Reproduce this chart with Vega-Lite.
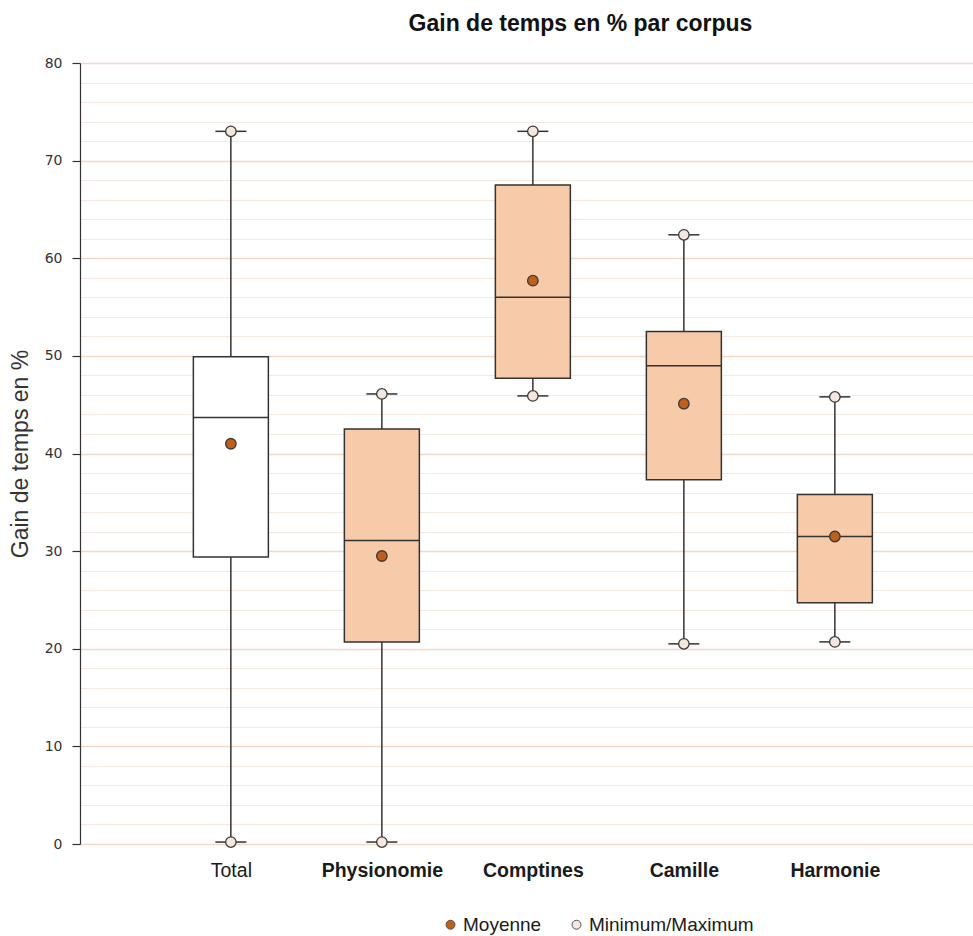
{
  "$schema": "https://vega.github.io/schema/vega-lite/v6.json",
  "autosize": {"type": "none"},
  "padding": {"left": 80, "top": 63, "right": 0, "bottom": 92},
  "width": 893,
  "height": 781,
  "background": "white",
  "title": {
    "text": "Gain de temps en % par corpus",
    "font": "Liberation Sans",
    "fontSize": 23,
    "fontWeight": "bold",
    "color": "#111111",
    "anchor": "middle",
    "dx": 54,
    "offset": 20
  },
  "config": {
    "view": {"stroke": null}
  },
  "data": {
    "values": [
      {"corpus": "Total", "min": 0.2, "q1": 29.4, "median": 43.7, "q3": 49.9, "max": 73.0, "mean": 41.0},
      {"corpus": "Physionomie", "min": 0.2, "q1": 20.7, "median": 31.1, "q3": 42.5, "max": 46.1, "mean": 29.5},
      {"corpus": "Comptines", "min": 45.9, "q1": 47.7, "median": 56.0, "q3": 67.5, "max": 73.0, "mean": 57.7},
      {"corpus": "Camille", "min": 20.5, "q1": 37.3, "median": 49.0, "q3": 52.5, "max": 62.4, "mean": 45.1},
      {"corpus": "Harmonie", "min": 20.7, "q1": 24.7, "median": 31.5, "q3": 35.8, "max": 45.8, "mean": 31.5}
    ]
  },
  "encoding": {
    "x": {
      "field": "corpus",
      "type": "nominal",
      "sort": null,
      "scale": {"type": "point", "padding": 0.957, "align": 0.522},
      "axis": {
        "title": null,
        "domain": false,
        "ticks": false,
        "grid": false,
        "labelAngle": 0,
        "labelFont": "Liberation Sans",
        "labelFontSize": 19.5,
        "labelColor": "#1a1a1a",
        "labelPadding": 17,
        "labelFontWeight": {"condition": {"test": "datum.value == 'Total'", "value": "normal"}, "value": "bold"}
      }
    }
  },
  "layer": [
    {
      "mark": {"type": "rule", "color": "#333333", "strokeWidth": 1.5},
      "encoding": {
        "y": {
          "field": "min",
          "type": "quantitative",
          "scale": {"domain": [0, 80], "nice": false, "zero": false},
          "axis": {
            "title": "Gain de temps en %",
            "titleFont": "Liberation Sans",
            "titleFontSize": 23,
            "titleFontWeight": "normal",
            "titleColor": "#333333",
            "titlePadding": 12,
            "values": [0, 2, 4, 6, 8, 10, 12, 14, 16, 18, 20, 22, 24, 26, 28, 30, 32, 34, 36, 38, 40, 42, 44, 46, 48, 50, 52, 54, 56, 58, 60, 62, 64, 66, 68, 70, 72, 74, 76, 78, 80],
            "tickCount": 100,
            "labelExpr": "datum.value % 10 == 0 ? datum.label : ''",
            "labelOverlap": false,
            "labelFlush": false,
            "labelFont": "DejaVu Sans",
            "labelFontSize": 14,
            "labelColor": "#333333",
            "labelPadding": 10,
            "domainColor": "#333333",
            "domainWidth": 1.2,
            "tickColor": "#333333",
            "tickSize": 8,
            "tickWidth": 1.2,
            "tickOpacity": {"condition": {"test": "datum.value % 10 == 0", "value": 1}, "value": 0},
            "grid": true,
            "gridColor": {"condition": {"test": "datum.value % 10 == 0", "value": "#f2d8c6"}, "value": "#f3e9e2"},
            "gridWidth": {"condition": {"test": "datum.value % 10 == 0", "value": 1.6}, "value": 1.2}
          }
        },
        "y2": {"field": "max"}
      }
    },
    {
      "mark": {"type": "bar", "size": 75, "stroke": "#333333", "strokeWidth": 1.5},
      "encoding": {
        "y": {"field": "q1", "type": "quantitative"},
        "y2": {"field": "q3"},
        "fill": {"condition": {"test": "datum.corpus == 'Total'", "value": "#ffffff"}, "value": "#f7caa9"}
      }
    },
    {
      "mark": {"type": "tick", "size": 75, "thickness": 1.5, "color": "#333333", "opacity": 1},
      "encoding": {
        "y": {"field": "median", "type": "quantitative"}
      }
    },
    {
      "mark": {"type": "tick", "size": 31, "thickness": 1.5, "color": "#333333", "opacity": 1},
      "encoding": {
        "y": {"field": "min", "type": "quantitative"}
      }
    },
    {
      "mark": {"type": "tick", "size": 31, "thickness": 1.5, "color": "#333333", "opacity": 1},
      "encoding": {
        "y": {"field": "max", "type": "quantitative"}
      }
    },
    {
      "transform": [{"fold": ["min", "max", "mean"], "as": ["stat", "value"]}],
      "mark": {"type": "point", "shape": "circle", "filled": true, "size": 110, "stroke": "#3a3a3a", "strokeWidth": 1.3, "opacity": 1},
      "encoding": {
        "y": {"field": "value", "type": "quantitative"},
        "fill": {
          "field": "stat",
          "type": "nominal",
          "scale": {"domain": ["mean", "min", "max"], "range": ["#bf5f1c", "#f3e7de", "#f3e7de"]},
          "legend": {
            "title": null,
            "values": ["mean", "min"],
            "labelExpr": "datum.value == 'mean' ? 'Moyenne' : 'Minimum/Maximum'",
            "orient": "none",
            "direction": "horizontal",
            "legendX": 361,
            "legendY": 852,
            "symbolType": "circle",
            "symbolSize": 80,
            "symbolStrokeColor": "#555555",
            "symbolStrokeWidth": 1,
            "labelFont": "Liberation Sans",
            "labelFontSize": 19,
            "labelLimit": 400,
            "labelColor": "#1a1a1a",
            "columnPadding": 25,
            "labelOffset": 3
          }
        }
      }
    }
  ]
}
